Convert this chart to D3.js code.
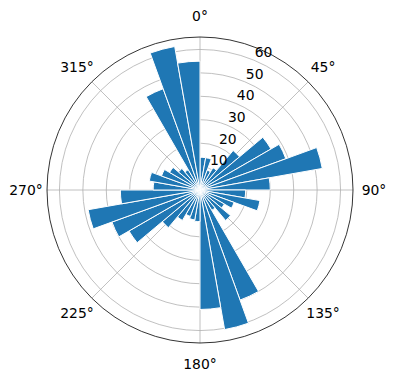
<!DOCTYPE html>
<html>
<head>
<meta charset="utf-8">
<script src="https://cdn.jsdelivr.net/npm/d3@7"></script>
<style>
  body { margin: 0; background: #fff; }
  text { font-family: "DejaVu Sans", sans-serif; font-size: 13.9px; fill: #000; }
</style>
</head>
<body>
<div id="rose-container"></div>
<script>
// bin start angles (deg, clockwise from north) and counts
const binStarts = d3.range(0, 360, 10);
const counts = [
  14, 14, 9, 11, 22, 35, 39, 53, 30,
  19.5, 26, 15.5, 12, 17, 10, 50, 60.5, 51,
  13.5, 13, 12, 15, 21, 35, 40, 48.5, 34,
  20, 22, 17.5, 15, 12, 10, 46, 62.2, 55
];
const rTicks = [10, 20, 30, 40, 50, 60];
const thetaTicks = [0, 45, 90, 135, 180, 225, 270, 315];

const width = 396;
const height = 380;
const cx = 200, cy = 190;
const outerRadius = 153;
const rMax = d3.max(counts) * 1.05;

const r = d3.scaleLinear().domain([0, rMax]).range([0, outerRadius]);
const toRad = (deg) => deg * Math.PI / 180;

const svg = d3.select('#rose-container')
  .append('svg')
  .attr('width', width)
  .attr('height', height);

const g = svg.append('g')
  .attr('transform', `translate(${cx}, ${cy})`);

// grid circles
g.selectAll('circle.grid')
  .data(rTicks)
  .enter()
  .append('circle')
  .attr('class', 'grid')
  .attr('r', (d) => r(d))
  .style('fill', 'none')
  .style('stroke', '#b0b0b0')
  .style('stroke-width', 0.8);

// grid spokes
g.selectAll('line.spoke')
  .data(thetaTicks)
  .enter()
  .append('line')
  .attr('x1', 0)
  .attr('y1', 0)
  .attr('x2', (d) => outerRadius * Math.sin(toRad(d)))
  .attr('y2', (d) => -outerRadius * Math.cos(toRad(d)))
  .style('stroke', '#b0b0b0')
  .style('stroke-width', 0.8);

// bars
const arcGenerator = d3.arc()
  .innerRadius(0)
  .outerRadius((d) => r(d.value))
  .startAngle((d) => toRad(d.start))
  .endAngle((d) => toRad(d.start + 10));

g.selectAll('path.bar')
  .data(binStarts.map((s, i) => ({ start: s, value: counts[i] })))
  .enter()
  .append('path')
  .attr('d', arcGenerator)
  .style('fill', '#1f77b4')
  .style('stroke', '#ffffff')
  .style('stroke-width', 1)
  .style('stroke-linejoin', 'miter');

// outer spine
g.append('circle')
  .attr('r', outerRadius)
  .style('fill', 'none')
  .style('stroke', '#000')
  .style('stroke-width', 0.8);

// radial tick labels at 22.5 deg
g.selectAll('text.rlabel')
  .data(rTicks)
  .enter()
  .append('text')
  .attr('x', (d) => r(d) * Math.sin(toRad(22.5)) + 1)
  .attr('y', (d) => -r(d) * Math.cos(toRad(22.5)) - 3)
  .attr('text-anchor', 'start')
  .text((d) => d);

// theta labels
g.selectAll('text.tlabel')
  .data(thetaTicks)
  .enter()
  .append('text')
  .attr('x', (d) => (outerRadius + 21) * Math.sin(toRad(d)))
  .attr('y', (d) => -(outerRadius + 21) * Math.cos(toRad(d)))
  .attr('text-anchor', 'middle')
  .attr('dominant-baseline', 'central')
  .text((d) => d + '°');
</script>
</body>
</html>
